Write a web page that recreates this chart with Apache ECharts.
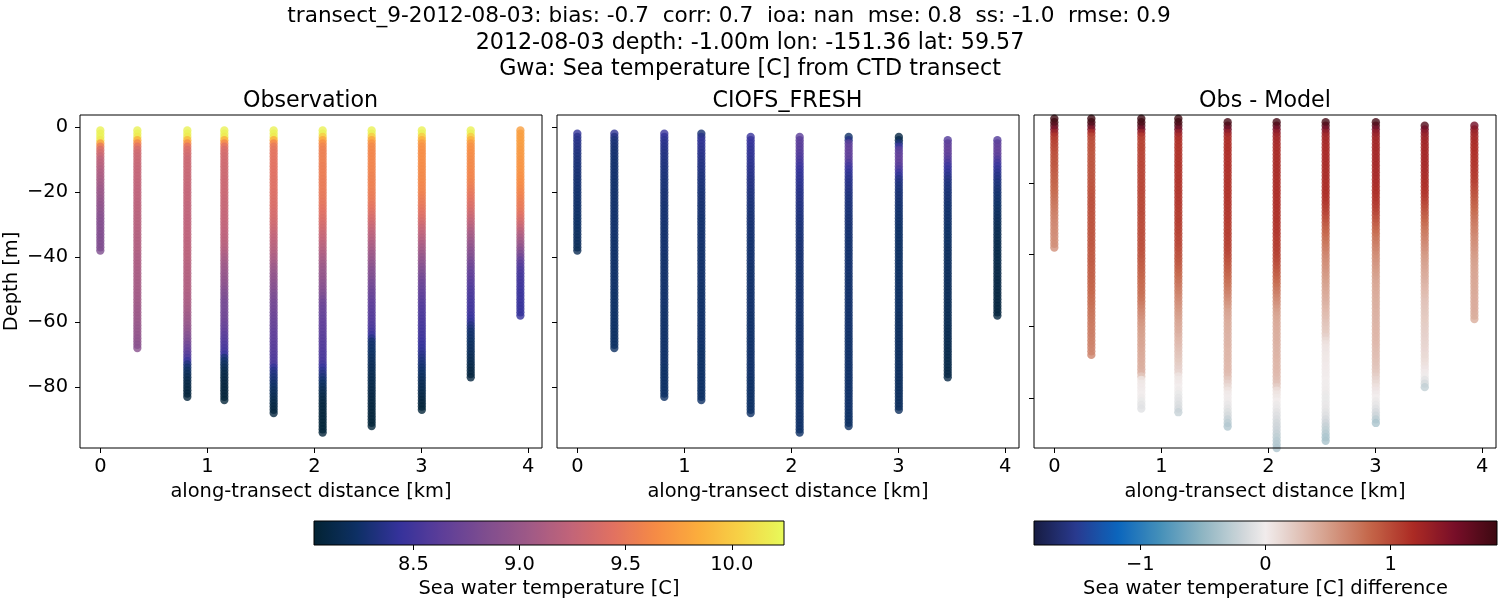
<!DOCTYPE html>
<html><head><meta charset="utf-8">
<style>html,body{margin:0;padding:0;background:#fff}#c{width:1500px;height:600px}</style>
<script src="https://cdn.jsdelivr.net/npm/echarts@6/dist/echarts.min.js"></script>
</head><body><div id="c"></div>
<script>
const stations=[0,.346,.813,1.159,1.62,2.078,2.536,3.005,3.462,3.926];
const depthTicks=[0,-20,-40,-60,-80];
const distTicks=[0,1,2,3,4];
const tempTicks=[8.5,9,9.5,10];
const diffTicks=[-1,0,1];
const obsTop=[1,1,1,1,1,1,1,1,1,1];
const modelTop=[2,2,2,2,3,3,3,3,4,4];
const obs0=[10.2,10.2,10.2,10.15,9.75,9.5,9.38,9.33,9.28,9.22,9.2,9.18,9.15,9.13,9.11,9.09,9.07,9.05,9.03,9.01,9,8.98,8.96,8.95,8.93,8.92,8.9,8.89,8.88,8.87,8.87,8.86,8.86,8.85,8.85,8.85,8.84,8.84];
const obs1=[10.2,10.2,10.15,9.85,9.6,9.45,9.35,9.32,9.3,9.29,9.28,9.27,9.26,9.26,9.25,9.25,9.24,9.24,9.23,9.23,9.22,9.22,9.21,9.21,9.2,9.2,9.19,9.19,9.18,9.18,9.17,9.17,9.16,9.16,9.15,9.15,9.14,9.14,9.13,9.12,9.12,9.11,9.11,9.1,9.1,9.09,9.09,9.08,9.08,9.07,9.06,9.06,9.05,9.05,9.04,9.03,9.03,9.02,9.01,9,8.99,8.98,8.97,8.96,8.94,8.93,8.91,8.9];
const obs2=[10.2,10.2,10.15,9.9,9.65,9.45,9.38,9.35,9.32,9.3,9.3,9.29,9.29,9.28,9.28,9.27,9.27,9.26,9.26,9.25,9.25,9.25,9.25,9.24,9.24,9.24,9.24,9.23,9.23,9.23,9.23,9.22,9.22,9.22,9.21,9.21,9.21,9.2,9.2,9.2,9.19,9.18,9.17,9.17,9.16,9.16,9.15,9.15,9.14,9.14,9.13,9.12,9.11,9.1,9.09,9.07,9.06,9.04,9.02,9,8.98,8.95,8.92,8.88,8.84,8.8,8.75,8.7,8.65,8.6,8.55,8.45,8.32,8.26,8.22,8.18,8.15,8.13,8.11,8.1,8.09,8.08,8.07];
const obs3=[10.2,10.2,10.15,9.85,9.6,9.45,9.38,9.36,9.34,9.33,9.32,9.32,9.31,9.31,9.31,9.3,9.3,9.3,9.29,9.29,9.29,9.28,9.28,9.27,9.27,9.26,9.26,9.25,9.25,9.24,9.24,9.23,9.22,9.21,9.2,9.19,9.17,9.15,9.13,9.1,9.07,9.05,9.03,9.01,8.99,8.97,8.95,8.93,8.91,8.88,8.85,8.83,8.8,8.79,8.78,8.77,8.76,8.75,8.74,8.72,8.7,8.68,8.65,8.62,8.6,8.58,8.56,8.53,8.5,8.45,8.3,8.25,8.2,8.17,8.14,8.12,8.11,8.1,8.09,8.08,8.08,8.07,8.07,8.06];
const obs4=[10.2,10.2,10.15,9.85,9.6,9.5,9.47,9.46,9.46,9.45,9.45,9.45,9.44,9.44,9.44,9.43,9.43,9.42,9.42,9.41,9.41,9.4,9.39,9.39,9.38,9.37,9.36,9.35,9.33,9.32,9.3,9.28,9.26,9.24,9.22,9.2,9.18,9.16,9.14,9.11,9.09,9.06,9.03,9,8.98,8.95,8.93,8.91,8.89,8.87,8.84,8.82,8.8,8.78,8.77,8.75,8.74,8.72,8.71,8.7,8.69,8.68,8.66,8.65,8.64,8.63,8.62,8.61,8.6,8.59,8.57,8.56,8.54,8.42,8.36,8.33,8.3,8.28,8.25,8.23,8.2,8.18,8.16,8.14,8.12,8.1,8.09,8.08];
const obs5=[10.2,10.2,10,9.8,9.65,9.58,9.56,9.55,9.55,9.55,9.55,9.54,9.54,9.54,9.54,9.53,9.52,9.52,9.51,9.5,9.49,9.49,9.48,9.47,9.45,9.44,9.42,9.4,9.38,9.35,9.33,9.31,9.28,9.26,9.24,9.2,9.18,9.15,9.13,9.1,9.07,9.05,9.02,9,8.98,8.96,8.94,8.92,8.9,8.88,8.85,8.82,8.78,8.74,8.72,8.7,8.69,8.68,8.67,8.66,8.65,8.64,8.63,8.62,8.61,8.6,8.59,8.58,8.57,8.56,8.55,8.53,8.49,8.43,8.38,8.34,8.3,8.26,8.22,8.19,8.16,8.14,8.12,8.1,8.09,8.08,8.08,8.07,8.07,8.07,8.06,8.06,8.06,8.06];
const obs6=[10.2,10.2,10,9.8,9.67,9.62,9.61,9.6,9.6,9.6,9.59,9.59,9.58,9.58,9.57,9.57,9.56,9.56,9.55,9.54,9.53,9.52,9.5,9.48,9.46,9.43,9.4,9.37,9.34,9.3,9.27,9.24,9.21,9.18,9.15,9.12,9.09,9.06,9.03,9,8.97,8.94,8.91,8.88,8.86,8.84,8.81,8.78,8.76,8.73,8.71,8.69,8.67,8.65,8.63,8.62,8.61,8.6,8.59,8.58,8.56,8.54,8.5,8.46,8.36,8.27,8.25,8.24,8.23,8.22,8.2,8.19,8.18,8.17,8.16,8.15,8.14,8.13,8.13,8.12,8.11,8.11,8.1,8.09,8.09,8.08,8.08,8.07,8.07,8.07,8.06,8.06];
const obs7=[10.2,10.2,10,9.85,9.72,9.67,9.66,9.65,9.65,9.65,9.64,9.64,9.63,9.63,9.62,9.62,9.61,9.6,9.59,9.58,9.56,9.54,9.52,9.5,9.47,9.45,9.42,9.39,9.35,9.32,9.28,9.25,9.22,9.18,9.15,9.12,9.08,9.05,9.02,8.98,8.95,8.92,8.88,8.85,8.82,8.78,8.75,8.72,8.7,8.68,8.66,8.64,8.62,8.6,8.58,8.57,8.56,8.55,8.54,8.53,8.52,8.51,8.5,8.49,8.48,8.46,8.44,8.42,8.4,8.37,8.34,8.31,8.29,8.26,8.24,8.22,8.2,8.18,8.16,8.15,8.14,8.12,8.11,8.09,8.08,8.07,8.06];
const obs8=[10.2,10.2,10,9.85,9.72,9.67,9.66,9.65,9.64,9.63,9.62,9.62,9.61,9.6,9.6,9.59,9.57,9.55,9.53,9.5,9.48,9.46,9.43,9.4,9.38,9.34,9.31,9.28,9.24,9.2,9.16,9.12,9.08,9.05,9.01,8.97,8.94,8.9,8.87,8.84,8.8,8.76,8.73,8.7,8.67,8.65,8.62,8.6,8.58,8.56,8.55,8.54,8.52,8.51,8.5,8.49,8.48,8.46,8.44,8.4,8.34,8.3,8.26,8.25,8.24,8.22,8.21,8.2,8.19,8.18,8.16,8.15,8.13,8.12,8.1,8.09,8.08];
const obs9=[9.76,9.75,9.75,9.75,9.75,9.74,9.73,9.72,9.72,9.71,9.7,9.7,9.69,9.68,9.67,9.66,9.65,9.64,9.62,9.6,9.58,9.56,9.54,9.52,9.5,9.47,9.44,9.4,9.36,9.31,9.26,9.2,9.15,9.1,9.05,9,8.94,8.88,8.82,8.75,8.68,8.62,8.58,8.55,8.53,8.51,8.5,8.49,8.48,8.47,8.46,8.46,8.45,8.45,8.44,8.44,8.43,8.43];
const mod0=[8.42,8.38,8.36,8.35,8.34,8.33,8.32,8.31,8.3,8.3,8.29,8.29,8.28,8.28,8.27,8.27,8.27,8.26,8.26,8.26,8.25,8.25,8.25,8.24,8.24,8.24,8.23,8.23,8.23,8.22,8.22,8.21,8.21,8.2,8.19,8.18,8.17];
const mod1=[8.4,8.34,8.3,8.29,8.28,8.27,8.27,8.27,8.26,8.26,8.26,8.26,8.26,8.26,8.26,8.25,8.25,8.25,8.25,8.25,8.25,8.25,8.25,8.25,8.25,8.25,8.25,8.25,8.25,8.25,8.25,8.25,8.25,8.24,8.24,8.24,8.24,8.24,8.24,8.24,8.24,8.24,8.24,8.24,8.24,8.24,8.24,8.24,8.24,8.23,8.23,8.23,8.23,8.23,8.23,8.23,8.23,8.23,8.23,8.23,8.23,8.22,8.22,8.22,8.22,8.22,8.22];
const mod2=[8.46,8.42,8.39,8.37,8.36,8.35,8.34,8.33,8.33,8.32,8.32,8.31,8.31,8.3,8.3,8.29,8.29,8.29,8.28,8.28,8.28,8.28,8.27,8.27,8.27,8.27,8.27,8.27,8.26,8.26,8.26,8.26,8.26,8.26,8.26,8.26,8.26,8.26,8.25,8.25,8.25,8.25,8.25,8.25,8.25,8.25,8.25,8.25,8.25,8.25,8.25,8.25,8.25,8.25,8.24,8.24,8.24,8.24,8.24,8.24,8.24,8.24,8.24,8.24,8.24,8.24,8.24,8.24,8.24,8.24,8.24,8.24,8.23,8.23,8.23,8.23,8.23,8.23,8.23,8.23,8.23,8.23];
const mod3=[8.28,8.36,8.4,8.4,8.39,8.38,8.37,8.36,8.35,8.34,8.33,8.33,8.32,8.31,8.31,8.3,8.3,8.29,8.29,8.28,8.28,8.28,8.27,8.27,8.27,8.27,8.26,8.26,8.26,8.26,8.26,8.26,8.26,8.26,8.26,8.25,8.25,8.25,8.25,8.25,8.25,8.25,8.25,8.25,8.25,8.25,8.25,8.24,8.24,8.24,8.24,8.24,8.24,8.24,8.24,8.24,8.24,8.24,8.24,8.24,8.24,8.24,8.24,8.24,8.24,8.24,8.23,8.23,8.23,8.23,8.23,8.23,8.23,8.23,8.23,8.23,8.23,8.23,8.23,8.23,8.23,8.23,8.23];
const mod4=[8.45,8.44,8.43,8.42,8.41,8.41,8.4,8.39,8.39,8.38,8.37,8.37,8.36,8.35,8.34,8.34,8.33,8.32,8.32,8.31,8.3,8.3,8.29,8.29,8.28,8.28,8.28,8.27,8.27,8.27,8.27,8.27,8.26,8.26,8.26,8.26,8.26,8.26,8.26,8.26,8.25,8.25,8.25,8.25,8.25,8.25,8.25,8.25,8.25,8.25,8.25,8.25,8.25,8.25,8.25,8.24,8.24,8.24,8.24,8.24,8.24,8.24,8.24,8.24,8.24,8.24,8.24,8.24,8.24,8.24,8.24,8.24,8.24,8.24,8.24,8.23,8.23,8.23,8.23,8.23,8.23,8.23,8.23,8.23,8.23,8.23];
const mod5=[8.62,8.62,8.62,8.61,8.6,8.58,8.56,8.53,8.5,8.47,8.44,8.42,8.41,8.4,8.39,8.38,8.37,8.36,8.35,8.35,8.34,8.33,8.33,8.32,8.32,8.31,8.31,8.3,8.3,8.29,8.29,8.29,8.28,8.28,8.28,8.28,8.27,8.27,8.27,8.27,8.27,8.26,8.26,8.26,8.26,8.26,8.26,8.26,8.26,8.26,8.26,8.26,8.26,8.26,8.26,8.25,8.25,8.25,8.25,8.25,8.25,8.25,8.25,8.25,8.25,8.25,8.25,8.25,8.25,8.25,8.25,8.25,8.25,8.25,8.25,8.24,8.24,8.24,8.24,8.24,8.24,8.24,8.24,8.24,8.24,8.24,8.24,8.24,8.24,8.24,8.24,8.23];
const mod6=[8.24,8.35,8.62,8.65,8.65,8.65,8.64,8.62,8.56,8.5,8.45,8.41,8.39,8.37,8.36,8.35,8.34,8.33,8.32,8.31,8.31,8.3,8.3,8.29,8.29,8.28,8.28,8.28,8.27,8.27,8.27,8.27,8.26,8.26,8.26,8.26,8.26,8.26,8.26,8.26,8.26,8.26,8.26,8.25,8.25,8.25,8.25,8.25,8.25,8.25,8.25,8.25,8.25,8.25,8.25,8.25,8.25,8.25,8.25,8.25,8.25,8.24,8.24,8.24,8.24,8.24,8.24,8.24,8.24,8.24,8.24,8.24,8.24,8.24,8.24,8.24,8.24,8.24,8.24,8.24,8.24,8.24,8.24,8.24,8.24,8.23,8.23,8.23,8.22,8.22];
const mod7=[8.1,8.14,8.3,8.45,8.6,8.63,8.65,8.65,8.64,8.6,8.54,8.47,8.41,8.35,8.33,8.31,8.3,8.29,8.28,8.28,8.27,8.27,8.26,8.26,8.25,8.25,8.24,8.24,8.23,8.23,8.23,8.23,8.23,8.22,8.22,8.22,8.22,8.22,8.22,8.22,8.22,8.22,8.22,8.22,8.22,8.22,8.22,8.22,8.22,8.22,8.22,8.22,8.22,8.22,8.22,8.21,8.21,8.21,8.21,8.21,8.21,8.21,8.21,8.21,8.21,8.21,8.21,8.21,8.21,8.21,8.21,8.21,8.21,8.21,8.21,8.2,8.2,8.2,8.2,8.2,8.2,8.2,8.2,8.2,8.2];
const mod8=[8.58,8.62,8.65,8.65,8.65,8.62,8.58,8.53,8.47,8.43,8.4,8.37,8.34,8.32,8.31,8.3,8.29,8.28,8.28,8.27,8.26,8.26,8.25,8.25,8.25,8.24,8.24,8.23,8.23,8.23,8.22,8.22,8.22,8.21,8.21,8.21,8.2,8.2,8.2,8.2,8.2,8.19,8.19,8.19,8.19,8.18,8.18,8.18,8.18,8.18,8.17,8.17,8.17,8.17,8.16,8.16,8.16,8.16,8.15,8.15,8.15,8.15,8.14,8.14,8.14,8.13,8.13,8.13,8.12,8.12,8.12,8.11,8.11,8.11];
const mod9=[8.58,8.62,8.65,8.65,8.65,8.62,8.56,8.5,8.45,8.41,8.38,8.35,8.33,8.31,8.3,8.28,8.27,8.26,8.25,8.24,8.23,8.22,8.21,8.2,8.19,8.18,8.17,8.16,8.15,8.15,8.14,8.14,8.13,8.13,8.13,8.12,8.12,8.12,8.12,8.11,8.11,8.11,8.11,8.1,8.1,8.1,8.1,8.09,8.09,8.09,8.09,8.08,8.08,8.08,8.08];
const dif0=[1.85,1.82,1.7,1.5,1.3,1.15,1.1,1.05,1.02,1,.98,.96,.95,.95,.93,.92,.9,.88,.87,.85,.83,.81,.79,.77,.75,.73,.71,.69,.67,.65,.64,.63,.62,.61,.6,.6,.59];
const dif1=[1.85,1.82,1.7,1.45,1.2,1.05,1,.98,.97,.96,.95,.95,.95,.95,.95,.95,.95,.95,.96,.96,.97,.97,.98,.98,.98,.98,.97,.97,.97,.96,.96,.96,.95,.95,.95,.94,.94,.93,.93,.92,.92,.91,.9,.9,.89,.88,.87,.86,.85,.84,.82,.81,.8,.78,.77,.76,.75,.74,.73,.72,.71,.7,.69,.68,.67,.66,.65];
const dif2=[1.85,1.82,1.75,1.55,1.3,1.12,1.06,1.05,1.05,1.05,1.04,1.04,1.04,1.04,1.04,1.03,1.03,1.03,1.03,1.03,1.03,1.03,1.02,1.02,1.02,1.02,1.02,1.02,1.01,1.01,1,1,1,.99,.99,.98,.98,.97,.96,.95,.92,.91,.9,.88,.86,.85,.83,.82,.81,.8,.78,.76,.72,.68,.65,.62,.59,.56,.54,.52,.5,.49,.48,.47,.46,.45,.44,.43,.42,.41,.4,.38,.25,.06,.03,.02,.01,0,-.02,-.04,-.07,-.09];
const dif3=[1.85,1.82,1.75,1.55,1.35,1.22,1.18,1.16,1.15,1.15,1.15,1.15,1.15,1.15,1.15,1.14,1.14,1.14,1.14,1.13,1.13,1.13,1.12,1.12,1.12,1.11,1.11,1.1,1.1,1.09,1.08,1.07,1.06,1.05,1.04,1.03,1.02,1,.98,.96,.94,.92,.89,.86,.83,.8,.77,.74,.71,.68,.65,.62,.59,.56,.54,.51,.49,.46,.44,.42,.4,.37,.35,.33,.31,.29,.27,.25,.23,.21,.18,.15,.06,.03,.02,0,-.02,-.04,-.07,-.09,-.12,-.15,-.22];
const dif4=[1.8,1.75,1.55,1.35,1.22,1.19,1.18,1.18,1.18,1.18,1.17,1.17,1.17,1.17,1.17,1.16,1.16,1.16,1.16,1.15,1.15,1.15,1.14,1.14,1.13,1.13,1.12,1.12,1.11,1.11,1.1,1.1,1.09,1.08,1.07,1.06,1.05,1.03,1,.97,.94,.91,.88,.85,.82,.79,.76,.72,.68,.64,.6,.56,.52,.48,.46,.44,.42,.41,.4,.39,.38,.38,.37,.37,.36,.36,.35,.35,.34,.34,.33,.3,.24,.18,.12,.06,.02,.01,-.02,-.05,-.08,-.12,-.16,-.22,-.28,-.33];
const dif5=[1.8,1.72,1.52,1.38,1.28,1.24,1.22,1.21,1.2,1.2,1.2,1.2,1.2,1.2,1.2,1.2,1.19,1.19,1.19,1.18,1.18,1.18,1.17,1.17,1.17,1.16,1.16,1.16,1.15,1.14,1.14,1.13,1.12,1.11,1.1,1.09,1.08,1.07,1.05,1.02,.99,.96,.93,.9,.86,.82,.78,.74,.7,.66,.62,.58,.54,.5,.47,.45,.44,.43,.42,.41,.4,.4,.39,.38,.38,.37,.37,.36,.35,.35,.34,.33,.31,.28,.2,.1,.06,.03,0,-.03,-.05,-.08,-.11,-.14,-.17,-.19,-.21,-.24,-.27,-.3,-.32,-.34];
const dif6=[1.8,1.72,1.52,1.36,1.26,1.23,1.22,1.21,1.21,1.21,1.21,1.21,1.2,1.2,1.2,1.2,1.2,1.19,1.19,1.19,1.18,1.17,1.15,1.13,1.1,1.07,1.04,1,.96,.92,.88,.85,.82,.79,.76,.73,.7,.67,.64,.62,.6,.58,.56,.54,.52,.5,.48,.46,.44,.42,.4,.38,.36,.34,.32,.3,.28,.26,.24,.22,.18,.12,.08,.06,.05,.04,.03,.03,.02,.02,.01,.01,0,-.01,-.01,-.02,-.03,-.04,-.04,-.05,-.06,-.08,-.11,-.15,-.19,-.23,-.27,-.31,-.35,-.37];
const dif7=[1.8,1.72,1.52,1.38,1.3,1.26,1.25,1.24,1.24,1.24,1.24,1.23,1.23,1.22,1.22,1.22,1.21,1.21,1.2,1.19,1.18,1.16,1.14,1.12,1.09,1.06,1.02,.98,.94,.9,.86,.82,.78,.75,.72,.69,.66,.63,.6,.58,.56,.54,.52,.5,.48,.46,.45,.44,.43,.42,.41,.4,.4,.39,.39,.38,.38,.37,.37,.36,.36,.35,.34,.33,.32,.31,.3,.29,.28,.26,.24,.2,.16,.12,.08,.05,.02,0,-.03,-.06,-.1,-.15,-.2,-.28,-.36];
const dif8=[1.72,1.55,1.4,1.32,1.28,1.26,1.25,1.25,1.24,1.24,1.23,1.23,1.22,1.22,1.21,1.2,1.19,1.18,1.16,1.14,1.12,1.08,1.04,1,.96,.92,.88,.84,.8,.76,.73,.7,.67,.64,.61,.58,.55,.52,.5,.48,.46,.44,.42,.4,.38,.36,.34,.32,.3,.28,.27,.26,.25,.24,.23,.22,.21,.2,.19,.18,.17,.16,.15,.14,.13,.12,.1,.08,.05,.02,-.02,-.08,-.16,-.25];
const dif9=[1.55,1.42,1.3,1.25,1.22,1.2,1.19,1.18,1.17,1.16,1.15,1.14,1.13,1.12,1.11,1.1,1.07,1.04,1.01,.98,.95,.92,.89,.86,.83,.8,.77,.74,.72,.69,.67,.64,.62,.6,.58,.56,.54,.52,.5,.49,.48,.47,.46,.46,.45,.45,.44,.44,.43,.43,.42,.42,.42,.41,.41];
const obsCols=[obs0,obs1,obs2,obs3,obs4,obs5,obs6,obs7,obs8,obs9];
const modCols=[mod0,mod1,mod2,mod3,mod4,mod5,mod6,mod7,mod8,mod9];
const difCols=[dif0,dif1,dif2,dif3,dif4,dif5,dif6,dif7,dif8,dif9];
const thermal=[[3,35,51],[13,48,100],[53,50,155],[93,62,153],[126,77,143],[158,89,135],[193,100,121],[225,113,97],[246,139,69],[251,173,60],[246,211,70],[231,250,90]].map((c,i)=>[i/11,c]);
const balance=[[0,[23,28,66]],[.0909,[41,58,143]],[.1818,[11,102,189]],[.2727,[69,144,185]],[.3636,[142,181,194]],[.4545,[210,216,219]],[.5,[241,236,236]],[.5455,[230,210,204]],[.6364,[213,157,137]],[.7273,[196,101,72]],[.8182,[172,43,36]],[.9091,[120,14,40]],[1,[60,9,17]]];
function sample(stops,t){let i=1;while(i<stops.length-1&&stops[i][0]<t)i++;const a=stops[i-1],b=stops[i],f=(t-a[0])/(b[0]-a[0]);
  const c=a[1].map((v,k)=>Math.round(v+(b[1][k]-v)*f));return `rgb(${c[0]},${c[1]},${c[2]})`;}
const ramp=s=>Array.from({length:101},(_,i)=>sample(s,i/100));
const grad=s=>new echarts.graphic.LinearGradient(0,0,1,0,ramp(s).map((color,i)=>({offset:i/100,color})));
const font='"DejaVu Sans"';
const lab=v=>String(v).replace('-','\u2212');
const panels=[
 {left:80,cols:obsCols,tops:obsTop,ymin:-98.77,ymax:3.75,yt:depthTicks,labels:true,t:'Observation',tc:310.5,vm:0},
 {left:557,cols:modCols,tops:modelTop,ymin:-98.77,ymax:3.75,yt:depthTicks,labels:false,t:'CIOFS_FRESH',tc:787.5,vm:0},
 {left:1034,cols:difCols,tops:modelTop,ymin:-94,ymax:-1,yt:[-20,-40,-60,-80],labels:false,t:'Obs - Model',tc:1265,vm:1}];
const grid=[],xAxis=[],yAxis=[],series=[],visualMap=[];
const tick={show:true,length:5,lineStyle:{color:'#000',width:1}};
const tlabel={color:'#000',fontFamily:font,fontSize:19.44};
const nameStyle={color:'#000',fontFamily:font,fontSize:19.44};
const noLine={show:false,onZero:false};
panels.forEach((p,i)=>{
  grid.push({left:p.left,top:115,width:462,height:333,show:true,borderColor:'#000',borderWidth:1,z:5,outerBoundsMode:'none'});
  xAxis.push({type:'value',gridIndex:i,min:-.19,max:4.128,position:'bottom',name:'along-transect distance [km]',nameLocation:'middle',nameGap:34,
    nameTextStyle:nameStyle,axisLine:noLine,splitLine:{show:false},
    axisTick:{...tick,customValues:distTicks},axisLabel:{...tlabel,margin:9,customValues:distTicks,formatter:lab}});
  yAxis.push({type:'value',gridIndex:i,min:p.ymin,max:p.ymax,position:'left',axisLine:noLine,splitLine:{show:false},
    name:p.labels?'Depth [m]':'',nameLocation:'middle',nameGap:59,nameTextStyle:nameStyle,
    axisTick:{...tick,customValues:p.yt},axisLabel:{...tlabel,show:p.labels,margin:12,customValues:p.yt,formatter:lab}});
  const data=[];
  p.cols.forEach((vals,c)=>vals.forEach((v,k)=>data.push([stations[c],-(p.tops[c]+k),v])));
  series.push({type:'scatter',xAxisIndex:i,yAxisIndex:i,data,symbolSize:8.33,symbol:'circle',clip:true,z:2,silent:true,animation:false});
  visualMap.push(p.vm===0
    ?{show:false,seriesIndex:i,dimension:2,min:8.032,max:10.246,inRange:{color:ramp(thermal)}}
    :{show:false,seriesIndex:i,dimension:2,min:-1.85,max:1.85,inRange:{color:ramp(balance)}});
});
const bars=[{left:314,width:470,min:8.032,max:10.246,ticks:tempTicks,stops:thermal,name:'Sea water temperature [C]',fmt:v=>v.toFixed(1)},
 {left:1034,width:463,min:-1.85,max:1.85,ticks:diffTicks,stops:balance,name:'Sea water temperature [C] difference',fmt:lab}];
bars.forEach((b,j)=>{
  const i=3+j;
  grid.push({left:b.left,top:521,width:b.width,height:24,show:true,borderColor:'#000',borderWidth:1,z:5,outerBoundsMode:'none'});
  xAxis.push({type:'value',gridIndex:i,min:b.min,max:b.max,position:'bottom',name:b.name,nameLocation:'middle',nameGap:34,
    nameTextStyle:nameStyle,axisLine:noLine,splitLine:{show:false},
    axisTick:{...tick,customValues:b.ticks},axisLabel:{...tlabel,margin:10,customValues:b.ticks,formatter:b.fmt}});
  yAxis.push({type:'value',gridIndex:i,min:0,max:1,show:false});
  series.push({type:'line',xAxisIndex:i,yAxisIndex:i,data:[[b.min,1],[b.max,1]],showSymbol:false,lineStyle:{width:0},areaStyle:{color:grad(b.stops),opacity:1},silent:true,animation:false,z:2});
});
const title=[
 {text:'transect_9-2012-08-03: bias: -0.7  corr: 0.7  ioa: nan  mse: 0.8  ss: -1.0  rmse: 0.9',c:729,y:16,fs:21.6},
 {text:'2012-08-03 depth: -1.00m lon: -151.36 lat: 59.57',c:750,y:43,fs:22.2},
 {text:'Gwa: Sea temperature [C] from CTD transect',c:750,y:69,fs:22.2},
 ...panels.map(p=>({text:p.t,c:p.tc,y:101,fs:22.2}))
].map(o=>({text:o.text,left:o.c,top:o.y,textAlign:'center',textVerticalAlign:'middle',padding:0,textStyle:{color:'#000',fontFamily:font,fontSize:o.fs,fontWeight:'normal',lineHeight:24}}));
const chart=echarts.init(document.getElementById('c'),null,{renderer:'canvas'});
chart.setOption({animation:false,backgroundColor:'#fff',title,grid,xAxis,yAxis,series,visualMap,tooltip:{show:false},legend:{show:false}});
</script></body></html>
